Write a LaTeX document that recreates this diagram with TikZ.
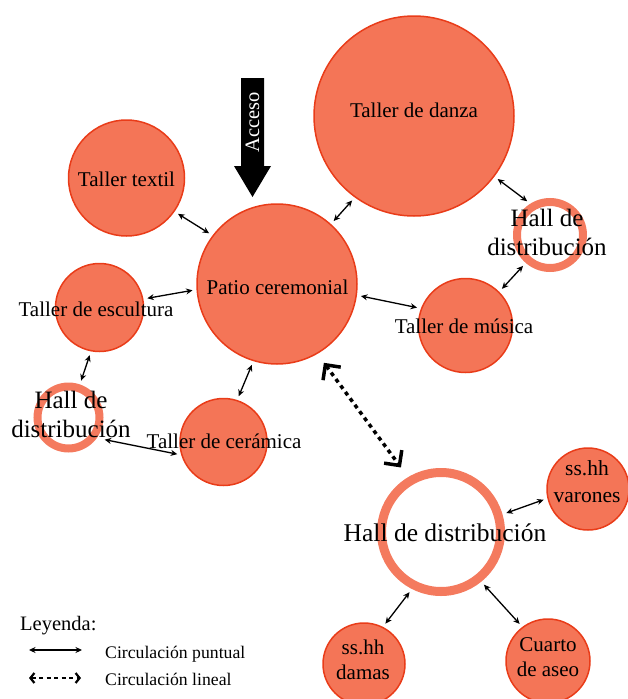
\documentclass[tikz,border=0pt]{standalone}
\usepackage{fontspec}
\setmainfont{Liberation Serif}
\usetikzlibrary{arrows.meta}
\definecolor{roomfill}{RGB}{244,117,87}
\definecolor{roomline}{RGB}{233,60,25}
\definecolor{ringcol}{RGB}{244,122,94}
\begin{document}
\begin{tikzpicture}[x=1pt,y=-1pt,
  room/.style={circle,fill=roomfill,draw=roomline,line width=1.5pt,inner sep=0pt,outer sep=0.75pt},
  hallring/.style={circle,draw=ringcol,inner sep=0pt},
  lbl/.style={font=\fontsize{21}{25}\selectfont,anchor=base,inner sep=0pt},
  lbltwo/.style={font=\fontsize{21}{25}\selectfont,anchor=north,align=center,inner sep=0pt},
  hlbl/.style={font=\fontsize{25}{29}\selectfont,anchor=north,align=center,inner sep=0pt},
  conn/.style={{Stealth[length=6.5pt,width=6pt]}-{Stealth[length=6.5pt,width=6pt]},line width=1.3pt,shorten <=4pt,shorten >=4pt},
  lin/.style={{Straight Barb[length=11pt,width=22pt]}-{Straight Barb[length=11pt,width=22pt]},line width=3.5pt,dash pattern=on 4pt off 4pt,shorten <=11pt,shorten >=12pt},
  legtxt/.style={font=\fontsize{17.7}{21}\selectfont,anchor=base west,inner sep=0pt}]
\useasboundingbox (0,0) rectangle (627,699);

% rooms
\node[room,minimum size=200pt] (danza) at (414,116) {};
\node[room,minimum size=116pt] (textil) at (126.5,178) {};
\node[room,minimum size=160pt] (patio) at (277,284) {};
\node[room,minimum size=88pt] (escultura) at (99.5,307.5) {};
\node[room,minimum size=94pt] (musica) at (465.5,325.5) {};
\node[room,minimum size=87pt] (ceramica) at (223.5,442) {};
\node[room,minimum size=82pt] (varones) at (588,489) {};
\node[room,minimum size=82pt] (damas) at (364,664) {};
\node[room,minimum size=84pt] (cuarto) at (548,661) {};
% halls (rings)
\node[hallring,line width=8pt,outer sep=4pt,minimum size=66pt] (hallR) at (550,235) {};
\node[hallring,line width=8pt,outer sep=4pt,minimum size=62pt] (hallL) at (68.5,417.5) {};
\node[hallring,line width=9pt,outer sep=4.5pt,minimum size=119pt] (hallB) at (441,532) {};

% labels
\node[lbl] (tdanza) at (414,117) {Taller de danza};
\node[lbl] (ttextil) at (126.5,186) {Taller textil};
\node[lbl] (tpatio) at (277.5,294.5) {Patio ceremonial};
\node[lbl] (tesc) at (96,316) {Taller de escultura};
\node[lbl] (tmus) at (464,333) {Taller de música};
\node[lbl] (tcer) at (224,448) {Taller de cerámica};
\node[hlbl] (thallR) at (547,209) {Hall de\\distribución};
\node[hlbl] (thallL) at (71,391) {Hall de\\distribución};
\node[font=\fontsize{25.5}{29}\selectfont,anchor=base,inner sep=0pt] (thallB) at (445,541) {Hall de distribución};
\node[lbltwo,font=\fontsize{21.5}{27}\selectfont] (tvar) at (587,460.3) {ss.hh\\varones};
\node[lbltwo] (tdam) at (363,639.7) {ss.hh\\damas};
\node[lbltwo] (tcua) at (548,637.8) {Cuarto\\de aseo};

% access arrow
\fill[black] (241,78) -- (264,78) -- (264,166) -- (271,166) -- (252.5,197) -- (234,166) -- (241,166) -- cycle;
\node[rotate=90,text=white,font=\fontsize{20.5}{24}\selectfont,inner sep=0pt] (acceso) at (252.5,122) {Acceso};

% connectors
\draw[conn] (textil.-35.8) -- (patio.143.1);
\draw[conn] (danza.-126.8) -- (patio.48.7);
\draw[conn] (danza.-37.7) -- (hallR.122.6);
\draw[conn] (hallR.-131.3) -- (musica.45.8);
\draw[conn] (patio.-8) -- (musica.159.8);
\draw[conn] (escultura.11.8) -- (patio.184.8);
\draw[conn] (escultura.-101.1) -- (hallL.71.1);
\draw[conn,shorten <=8pt] (hallL.-36) -- (ceramica.197.5);
\draw[conn] (patio.-107.6) -- (ceramica.72.2);
\draw[conn] (hallB.16.3) -- (varones.193.4);
\draw[conn] (hallB.-117.3) -- (damas.63.4);
\draw[conn] (hallB.-51.5) -- (cuarto.127.8);
\draw[lin] (patio.-60.9) -- (hallB.121.5);

% legend
\node[font=\fontsize{20.5}{24}\selectfont,anchor=base west,inner sep=0pt] (ley) at (20,630) {Leyenda:};
\coordinate (s1) at (29,650);
\coordinate (s2) at (82,650);
\draw[conn,shorten <=0pt,shorten >=0pt] (s1) -- (s2);
\node[legtxt] (t1) at (105,658) {Circulación puntual};
\coordinate (d1) at (29,678);
\coordinate (d2) at (81,678);
\draw[{Straight Barb[length=4pt,width=10pt,line width=2.2pt]}-{Straight Barb[length=4pt,width=10pt,line width=2.2pt]},line width=1.2pt,dash pattern=on 4pt off 3.5pt] (d1) -- (d2);
\node[legtxt] (t2) at (105,685) {Circulación lineal};
\end{tikzpicture}
\end{document}
